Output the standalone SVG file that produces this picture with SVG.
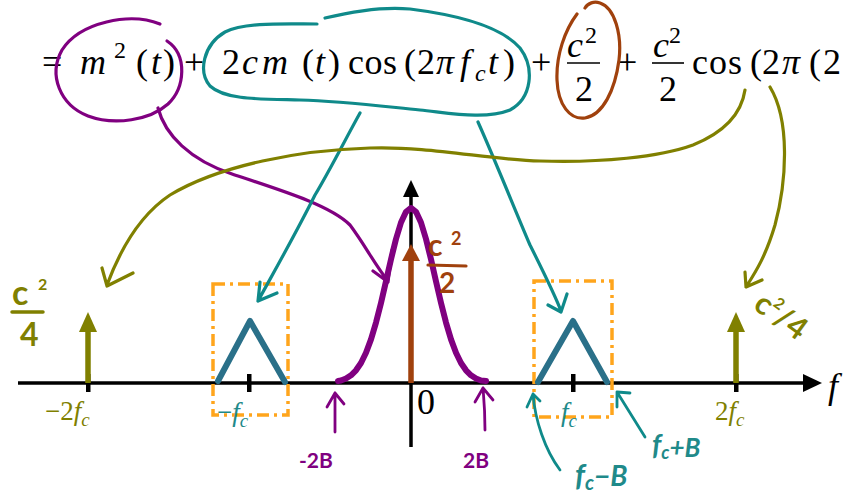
<svg xmlns="http://www.w3.org/2000/svg" width="843" height="493" viewBox="0 0 843 493">
<style>
.eq{font-family:"Liberation Serif",serif;font-size:36px;fill:#000}
.it{font-style:italic}
.sup{font-size:24px}
.ink{fill:none;stroke-linecap:round;stroke-linejoin:round}
.pur{stroke:#800080}
.tea{stroke:#0f8a8a}
.oli{stroke:#808000}
.brn{stroke:#a0410d}
.hand{font-family:"Lato","Liberation Sans",sans-serif;font-weight:bold}
.lab{font-family:"Liberation Serif",serif;font-size:27px}
</style>
<rect width="843" height="493" fill="#fff"/>

<g id="equation">
<text class="eq" x="42" y="74">=</text>
<text class="eq it" x="80" y="74" font-size="40">m</text>
<text class="eq sup" x="114" y="58">2</text>
<text class="eq" x="136" y="74">(</text>
<text class="eq it" x="151" y="74">t</text>
<text class="eq" x="163" y="74">)</text>
<text class="eq" x="184" y="74">+</text>
<text class="eq" x="222" y="74">2</text>
<text class="eq it" x="242" y="74">c</text>
<text class="eq it" x="262" y="74" font-size="42">m</text>
<text class="eq" x="302" y="74">(</text>
<text class="eq it" x="315" y="74">t</text>
<text class="eq" x="328" y="74">)</text>
<text class="eq" x="348" y="74" textLength="49" lengthAdjust="spacing">cos</text>
<text class="eq" x="404" y="74">(</text>
<text class="eq" x="417" y="74">2</text>
<text class="eq it" x="436" y="74">π</text>
<text class="eq it" x="460" y="74">f</text>
<text class="eq it sup" x="475" y="81">c</text>
<text class="eq it" x="488" y="74">t</text>
<text class="eq" x="503" y="74">)</text>
<text class="eq" x="531" y="74">+</text>
<text class="eq it" x="567" y="57">c</text>
<text class="eq sup" x="585" y="43">2</text>
<line x1="567" y1="63" x2="600" y2="63" stroke="#000" stroke-width="1.6"/>
<text class="eq" x="575" y="101">2</text>
<text class="eq" x="617" y="74">+</text>
<text class="eq it" x="653" y="57">c</text>
<text class="eq sup" x="669" y="43">2</text>
<line x1="652" y1="63" x2="684" y2="63" stroke="#000" stroke-width="1.6"/>
<text class="eq" x="659" y="101">2</text>
<text class="eq" x="692" y="74" textLength="50" lengthAdjust="spacing">cos</text>
<text class="eq" x="750" y="74">(</text>
<text class="eq" x="762" y="74">2</text>
<text class="eq it" x="782" y="74">π</text>
<text class="eq" x="809" y="74">(</text>
<text class="eq" x="823" y="74">2</text>
</g>

<g id="axes">
<line x1="18" y1="383" x2="806" y2="383" stroke="#000" stroke-width="3.5"/>
<polygon points="822,383 803,374 803,392" fill="#000"/>
<line x1="411" y1="447" x2="411" y2="194" stroke="#000" stroke-width="3.5"/>
<polygon points="411,180 403,197 419,197" fill="#000"/>
<rect x="86" y="374" width="4.5" height="18" fill="#000"/>
<rect x="247" y="374" width="4.5" height="18" fill="#000"/>
<rect x="571" y="374" width="4.5" height="18" fill="#000"/>
<rect x="734" y="374" width="4.5" height="18" fill="#000"/>
<text class="eq it" x="828" y="398" font-size="34">f</text>
<text class="eq" x="417" y="414" font-size="24">0</text>
</g>

<g id="boxes" fill="none" stroke="#ffa51c" stroke-width="3.5" stroke-dasharray="12 5 3 5">
<rect x="213" y="284" width="75" height="131"/>
<rect x="534" y="281" width="78" height="136"/>
</g>

<g id="spectrum">
<polyline class="ink" stroke="#2a7089" stroke-width="6" points="218,381 250,321 285,382"/>
<polyline class="ink" stroke="#2a7089" stroke-width="6" points="538,382 573,321 607,382"/>
<polyline class="ink pur" stroke-width="6" points="338,381 341,380.5 346,378.5 351,375.3 356,370.3 361,363 366,352.8 371,339.4 376,322.6 381,302.9 386,281.3 391,259.3 396,239 401,222.5 406,211.8 411,208 416,211.8 421,222.5 426,239 431,259.3 436,281.3 441,302.9 446,322.6 451,339.4 456,352.8 461,363 466,370.3 471,375.3 476,378.5 481,380.5 486,381"/>
<line x1="411" y1="383" x2="411" y2="258" stroke="#a0410d" stroke-width="5.5"/>
<polygon points="411,244 402,261 420,261" fill="#a0410d"/>
<line x1="88" y1="383" x2="88" y2="328" stroke="#808000" stroke-width="5.5"/>
<polygon points="88,312 79,332 97,332" fill="#808000"/>
<line x1="736" y1="383" x2="736" y2="328" stroke="#808000" stroke-width="5.5"/>
<polygon points="736,312 727,332 745,332" fill="#808000"/>
</g>

<g id="axis-labels" class="lab">
<text x="45" y="420" fill="#808000">−2<tspan font-style="italic">f</tspan><tspan font-style="italic" font-size="19" dy="6">c</tspan></text>
<text x="217" y="421" fill="#1f8a8a">−<tspan font-style="italic">f</tspan><tspan font-style="italic" font-size="19" dy="6">c</tspan></text>
<text x="561" y="421" fill="#1f8a8a"><tspan font-style="italic">f</tspan><tspan font-style="italic" font-size="19" dy="6">c</tspan></text>
<text x="715" y="420" fill="#808000">2<tspan font-style="italic">f</tspan><tspan font-style="italic" font-size="19" dy="6">c</tspan></text>
</g>

<g id="annotations">
<path class="ink pur" stroke-width="3.2" d="M160,24 C130,12 80,22 62,50 C48,75 60,105 88,116 C115,126 150,120 168,104 C185,88 188,55 167,41"/>
<path class="ink pur" stroke-width="3.2" d="M158,108 C165,135 190,160 232,174 C280,190 330,205 350,225 C365,245 375,265 388,281 M373,271 L388,282 L392,250"/>
<path class="ink tea" stroke-width="3.2" d="M325,18 C350,12 380,6 410,9 C450,14 500,25 520,48 C535,68 532,98 510,110 C485,120 450,113 420,110 C380,106 340,101 300,100 C260,99 225,100 210,86 C198,72 203,45 225,32 C245,22 285,24 317,24"/>
<path class="ink tea" stroke-width="3.2" d="M360,113 C345,140 330,170 315,195 C295,235 275,270 258,301 M260,282 L258,301 L277,293"/>
<path class="ink tea" stroke-width="3.2" d="M478,122 C495,160 515,210 530,245 C545,275 555,295 561,311 M548,305 L561,312 L567,294"/>
<path class="ink brn" stroke-width="3.2" d="M577,14 C565,30 556,55 557,80 C558,105 570,120 585,118 C603,115 615,90 619,60 C622,35 615,8 600,3 C594,1 588,3 585,8"/>
<path class="ink oli" stroke-width="3.2" d="M745,90 C742,110 730,130 693,145 C660,157 600,163 540,161 C490,160 430,146 370,148 C300,150 220,165 170,195 C140,215 120,250 107,285 M102,268 L107,286 L133,273"/>
<path class="ink oli" stroke-width="3.2" d="M770,87 C790,120 787,180 775,225 C766,255 757,270 746,287 M745,272 L746,287 L762,280"/>
<path class="ink pur" stroke-width="2.8" d="M335,432 L335,393 M327,407 L335,393 L344,404"/>
<path class="ink pur" stroke-width="2.8" d="M485,430 C485,410 484,400 483,388 M475,402 L483,388 L493,400"/>
<path class="ink tea" stroke-width="2.8" d="M645,437 L617,392 M630,393 L617,392 L617,407"/>
<path class="ink tea" stroke-width="2.8" d="M560,470 C545,450 535,420 533,394 M527,407 L533,394 L540,401"/>
</g>

<g id="hand-labels" class="hand">
<text x="428" y="256" font-size="30" fill="#a0410d">c</text>
<text x="451" y="245" font-size="18" fill="#a0410d">2</text>
<line x1="428" y1="265" x2="466" y2="266" class="ink brn" stroke-width="3.2"/>
<text x="439" y="293" font-size="28" fill="#a0410d">2</text>
<text x="12" y="305" font-size="34" fill="#808000">c</text>
<text x="38" y="290" font-size="16" fill="#808000">2</text>
<line x1="12" y1="312" x2="43" y2="312" class="ink oli" stroke-width="3.5"/>
<text x="20" y="346" font-size="32" fill="#808000">4</text>
<text transform="translate(752,308) rotate(36)" font-size="31" fill="#808000">c<tspan font-size="16" dy="-14">2</tspan><tspan dy="14">/4</tspan></text>
<text x="299" y="468" font-size="21" fill="#800080">-2B</text>
<text x="463" y="468" font-size="21" fill="#800080">2B</text>
<text x="652" y="455" font-size="28" font-style="italic" fill="#1f8a8a">f<tspan font-size="18" dy="4">c</tspan><tspan font-size="26" dy="-2">+B</tspan></text>
<text x="575" y="486" font-size="30" font-style="italic" fill="#1f8a8a">f<tspan font-size="20" dy="4">c</tspan><tspan font-size="28" dy="-4">−B</tspan></text>
</g>
</svg>
